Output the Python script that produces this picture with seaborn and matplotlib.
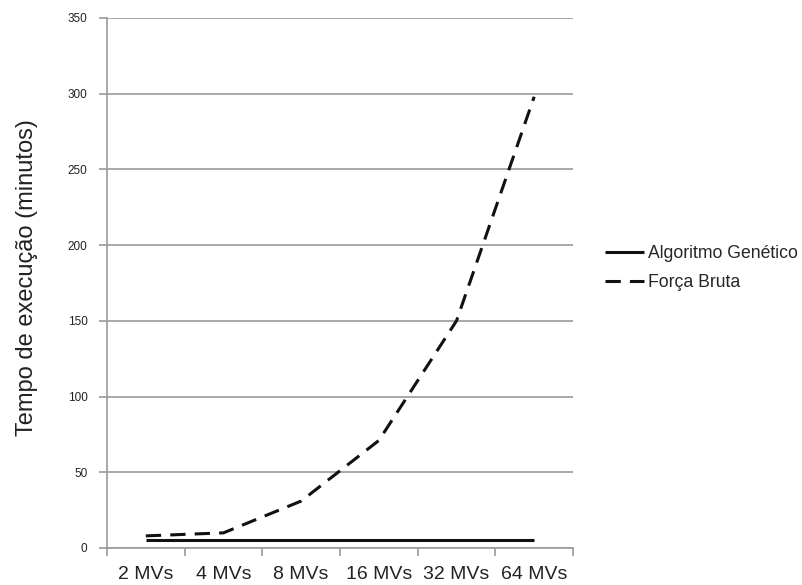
import pandas as pd
import numpy as np
import matplotlib
matplotlib.use("Agg")
import matplotlib.pyplot as plt
import seaborn as sns

categorias = ["2 MVs", "4 MVs", "8 MVs", "16 MVs", "32 MVs", "64 MVs"]
algoritmo_genetico = [5, 5, 5, 5, 5, 5]
forca_bruta = [8, 10, 31, 71, 150, 298]
y_ticks = [0, 50, 100, 150, 200, 250, 300, 350]

sns.set_style("white")
plt.rcParams['font.family'] = ['Liberation Sans', 'DejaVu Sans']

df = pd.DataFrame({
    "pos": list(range(len(categorias))) * 2,
    "tempo": algoritmo_genetico + forca_bruta,
    "serie": ["Algoritmo Genético"] * len(categorias) + ["Força Bruta"] * len(categorias),
})

fig = plt.figure(figsize=(8.02, 5.85), dpi=100)
ax = fig.add_axes([107 / 802, 1 - 548 / 585, (573 - 107) / 802, (548 - 18) / 585])

sns.lineplot(data=df, x="pos", y="tempo", hue="serie", style="serie",
             palette=["#111111", "#111111"], dashes=[(1, 0), (5, 3)],
             linewidth=2.2, ax=ax, legend=True)

ax.set_xlim(-0.5, len(categorias) - 0.5)
ax.set_ylim(0, 350)
ax.set_yticks(y_ticks)
ax.yaxis.grid(True, color="#9a9a9a", linewidth=1.2)
ax.set_axisbelow(True)

# tick marks between categories, labels centred on categories
ax.set_xticks(np.arange(-0.5, len(categorias) + 0.5, 1))
ax.set_xticklabels([])
ax.set_xticks(range(len(categorias)), minor=True)
ax.set_xticklabels(categorias, minor=True, fontsize=14, color="#222222")
ax.tick_params(axis="x", which="major", length=6, width=1.2, color="#9a9a9a", direction="out", bottom=True)
ax.tick_params(axis="x", which="minor", length=0, pad=13)
ax.tick_params(axis="y", length=6, width=1.2, color="#9a9a9a", direction="out", left=True,
               labelsize=8.5, labelcolor="#222222", pad=8)

for s in ["top", "right"]:
    ax.spines[s].set_visible(False)
for s in ["left", "bottom"]:
    ax.spines[s].set_color("#9a9a9a")
    ax.spines[s].set_linewidth(1.2)

ax.set_xlabel("")
ax.set_ylabel("Tempo de execução (minutos)", fontsize=17, color="#222222")
ax.yaxis.set_label_coords(-0.149, 0.51)

handles, labels = ax.get_legend_handles_labels()
ax.legend(handles, labels, loc="center left", bbox_to_anchor=(1.035, 0.528), frameon=False,
          fontsize=12.7, handlelength=2.2, handletextpad=0.2, labelspacing=0.65)

fig.savefig("out.png", dpi=100)
